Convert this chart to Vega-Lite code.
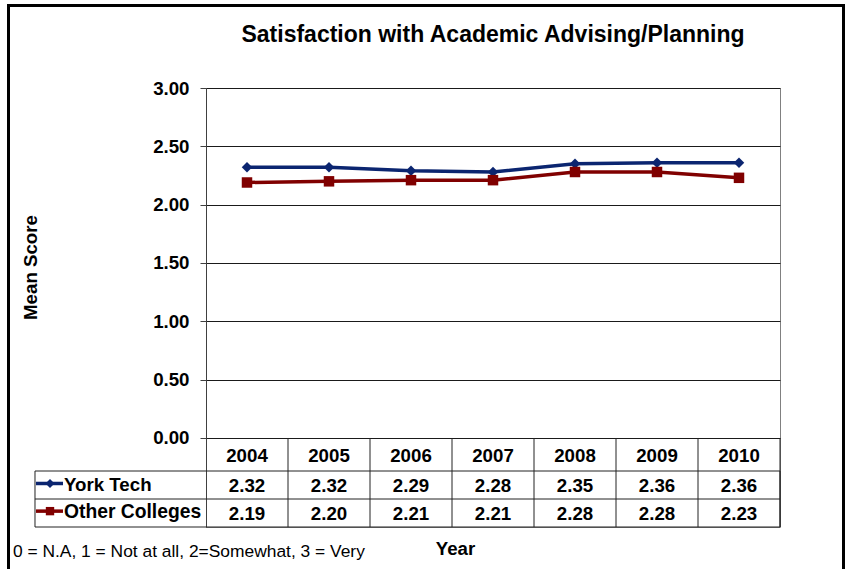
{
  "$schema": "https://vega.github.io/schema/vega-lite/v6.json",
  "width": 574,
  "height": 439,
  "autosize": {"type": "none"},
  "padding": {"left": 206, "top": 88, "right": 69, "bottom": 42},
  "background": "white",
  "config": {
    "font": "Liberation Sans",
    "view": {"stroke": "#808080", "strokeWidth": 1},
    "text": {"font": "Liberation Sans", "fontSize": 18.7, "fontWeight": "bold", "color": "black"}
  },
  "title": {
    "text": "Satisfaction with Academic Advising/Planning",
    "font": "Liberation Sans",
    "fontSize": 23,
    "fontWeight": "bold",
    "color": "black",
    "anchor": "middle",
    "baseline": "alphabetic",
    "offset": -60.5
  },
  "data": {
    "values": [
      {"year": 2004, "series": "York Tech", "score": 2.32},
      {"year": 2005, "series": "York Tech", "score": 2.32},
      {"year": 2006, "series": "York Tech", "score": 2.29},
      {"year": 2007, "series": "York Tech", "score": 2.28},
      {"year": 2008, "series": "York Tech", "score": 2.35},
      {"year": 2009, "series": "York Tech", "score": 2.36},
      {"year": 2010, "series": "York Tech", "score": 2.36},
      {"year": 2004, "series": "Other Colleges", "score": 2.19},
      {"year": 2005, "series": "Other Colleges", "score": 2.20},
      {"year": 2006, "series": "Other Colleges", "score": 2.21},
      {"year": 2007, "series": "Other Colleges", "score": 2.21},
      {"year": 2008, "series": "Other Colleges", "score": 2.28},
      {"year": 2009, "series": "Other Colleges", "score": 2.28},
      {"year": 2010, "series": "Other Colleges", "score": 2.23}
    ]
  },
  "layer": [
    {
      "data": {"values": [{}]},
      "mark": {"type": "rect", "fill": "white", "fillOpacity": 0, "stroke": "black", "strokeWidth": 3, "clip": false},
      "encoding": {
        "x": {"datum": 2001.0915, "type": "quantitative"},
        "x2": {"datum": 2011.2744},
        "y": {"datum": 3.707, "type": "quantitative"},
        "y2": {"datum": -1.174}
      }
    },
    {
      "mark": {"type": "line", "strokeWidth": 3.5, "clip": false},
      "encoding": {
        "x": {
          "field": "year", "type": "quantitative",
          "scale": {"domain": [2003.5, 2010.5], "nice": false, "zero": false},
          "axis": {
            "title": "Year", "labels": false, "ticks": false, "domain": false, "grid": false,
            "titleFont": "Liberation Sans", "titleFontSize": 18.7, "titleFontWeight": "bold", "titleColor": "black",
            "titleX": 249, "titleY": 27, "titleBaseline": "alphabetic", "titleAlign": "center"
          }
        },
        "y": {
          "field": "score", "type": "quantitative",
          "scale": {"domain": [-0.763, 3], "nice": false, "zero": false},
          "axis": {
            "values": [0, 0.5, 1, 1.5, 2, 2.5, 3],
            "format": ".2f",
            "title": "Mean Score",
            "labelFont": "Liberation Sans", "labelFontSize": 18.7, "labelFontWeight": "bold", "labelColor": "black",
            "labelPadding": 11, "tickSize": 6, "tickColor": "#404040", "domainColor": "#404040",
            "grid": true, "gridColor": "#1a1a1a", "gridWidth": 1,
            "titleFont": "Liberation Sans", "titleFontSize": 18.7, "titleFontWeight": "bold", "titleColor": "black",
            "titleX": -176, "titleY": 179, "titleAngle": -90, "titleAlign": "center", "titleBaseline": "middle"
          }
        },
        "color": {
          "field": "series", "type": "nominal",
          "scale": {"domain": ["York Tech", "Other Colleges"], "range": ["#0b2570", "#800000"]},
          "legend": null
        }
      }
    },
    {
      "mark": {"type": "point", "filled": true, "opacity": 1, "size": 110, "clip": false},
      "encoding": {
        "x": {"field": "year", "type": "quantitative"},
        "y": {"field": "score", "type": "quantitative"},
        "color": {"field": "series", "type": "nominal", "legend": null},
        "shape": {
          "field": "series", "type": "nominal",
          "scale": {"domain": ["York Tech", "Other Colleges"], "range": ["diamond", "square"]},
          "legend": null
        }
      }
    },
    {
      "data": {"values": [{}]},
      "mark": {"type": "rect", "fill": "white", "fillOpacity": 0, "stroke": "#222222", "strokeWidth": 1, "clip": false},
      "encoding": {
        "x": {"datum": 2001.4146, "type": "quantitative"},
        "x2": {"datum": 2010.5},
        "y": {"datum": -0.283, "type": "quantitative"},
        "y2": {"datum": -0.763}
      }
    },
    {
      "data": {"values": [{}]},
      "mark": {"type": "rule", "color": "#222222", "strokeWidth": 1, "clip": false},
      "encoding": {
        "x": {"datum": 2001.4146, "type": "quantitative"},
        "x2": {"datum": 2010.5},
        "y": {"datum": -0.523, "type": "quantitative"}
      }
    },
    {
      "data": {"values": [{}]},
      "mark": {"type": "rule", "color": "#222222", "strokeWidth": 1, "clip": false},
      "encoding": {
        "x": {"datum": 2010.5, "type": "quantitative"},
        "y": {"datum": 0, "type": "quantitative"},
        "y2": {"datum": -0.763}
      }
    },
    {
      "transform": [{"filter": "datum.series == 'York Tech' && datum.year > 2004"}],
      "mark": {"type": "rule", "color": "#222222", "strokeWidth": 1, "xOffset": -41, "clip": false},
      "encoding": {
        "x": {"field": "year", "type": "quantitative"},
        "y": {"datum": 0, "type": "quantitative"},
        "y2": {"datum": -0.763}
      }
    },
    {
      "transform": [{"filter": "datum.series == 'York Tech'"}],
      "mark": {"type": "text", "align": "center", "baseline": "middle", "clip": false},
      "encoding": {
        "x": {"field": "year", "type": "quantitative"},
        "y": {"datum": -0.154, "type": "quantitative"},
        "text": {"field": "year", "type": "nominal"}
      }
    },
    {
      "transform": [{"filter": "datum.series == 'York Tech'"}],
      "mark": {"type": "text", "align": "center", "baseline": "middle", "clip": false},
      "encoding": {
        "x": {"field": "year", "type": "quantitative"},
        "y": {"datum": -0.414, "type": "quantitative"},
        "text": {"field": "score", "type": "quantitative", "format": ".2f"}
      }
    },
    {
      "transform": [{"filter": "datum.series == 'Other Colleges'"}],
      "mark": {"type": "text", "align": "center", "baseline": "middle", "clip": false},
      "encoding": {
        "x": {"field": "year", "type": "quantitative"},
        "y": {"datum": -0.649, "type": "quantitative"},
        "text": {"field": "score", "type": "quantitative", "format": ".2f"}
      }
    },
    {
      "data": {"values": [{}]},
      "mark": {"type": "rule", "color": "#0b2570", "strokeWidth": 3.5, "clip": false},
      "encoding": {
        "x": {"datum": 2001.4268, "type": "quantitative"},
        "x2": {"datum": 2001.756},
        "y": {"datum": -0.39, "type": "quantitative"}
      }
    },
    {
      "data": {"values": [{}]},
      "mark": {"type": "point", "shape": "diamond", "filled": true, "opacity": 1, "size": 80, "color": "#0b2570", "clip": false},
      "encoding": {
        "x": {"datum": 2001.5976, "type": "quantitative"},
        "y": {"datum": -0.39, "type": "quantitative"}
      }
    },
    {
      "data": {"values": [{}]},
      "mark": {"type": "rule", "color": "#800000", "strokeWidth": 3.5, "clip": false},
      "encoding": {
        "x": {"datum": 2001.4268, "type": "quantitative"},
        "x2": {"datum": 2001.756},
        "y": {"datum": -0.627, "type": "quantitative"}
      }
    },
    {
      "data": {"values": [{}]},
      "mark": {"type": "point", "shape": "square", "filled": true, "opacity": 1, "size": 70, "color": "#800000", "clip": false},
      "encoding": {
        "x": {"datum": 2001.5976, "type": "quantitative"},
        "y": {"datum": -0.627, "type": "quantitative"}
      }
    },
    {
      "data": {"values": [{"label": "York Tech"}]},
      "mark": {"type": "text", "align": "left", "baseline": "middle", "clip": false},
      "encoding": {
        "x": {"datum": 2001.768, "type": "quantitative"},
        "y": {"datum": -0.40, "type": "quantitative"},
        "text": {"field": "label", "type": "nominal"}
      }
    },
    {
      "data": {"values": [{"label": "Other Colleges"}]},
      "mark": {"type": "text", "align": "left", "baseline": "middle", "fontSize": 19.3, "clip": false},
      "encoding": {
        "x": {"datum": 2001.768, "type": "quantitative"},
        "y": {"datum": -0.637, "type": "quantitative"},
        "text": {"field": "label", "type": "nominal"}
      }
    },
    {
      "data": {"values": [{"note": "0 = N.A, 1 = Not at all, 2=Somewhat, 3 = Very"}]},
      "mark": {"type": "text", "align": "left", "baseline": "alphabetic", "fontWeight": "normal", "fontSize": 17.4, "clip": false},
      "encoding": {
        "x": {"datum": 2001.146, "type": "quantitative"},
        "y": {"datum": -1.02, "type": "quantitative"},
        "text": {"field": "note", "type": "nominal"}
      }
    }
  ]
}
